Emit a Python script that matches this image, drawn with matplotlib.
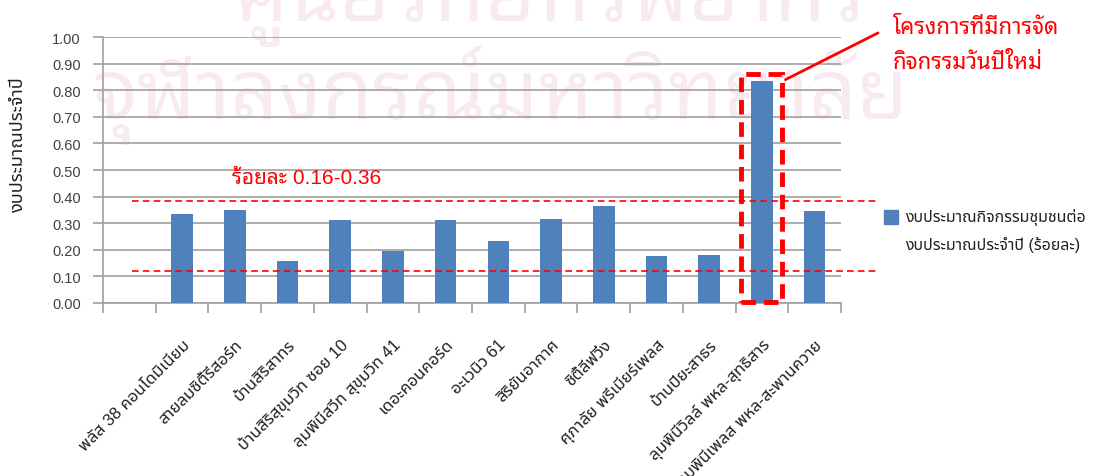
import numpy as np
import matplotlib
matplotlib.use('Agg')
import matplotlib.pyplot as plt
from matplotlib.patches import Rectangle

# ข้อมูล
projects = [
    'พลัส 38 คอนโดมิเนียม',
    'สายลมซิตี้รีสอร์ท',
    'บ้านสิริสาทร',
    'บ้านสิริสุขุมวิท ซอย 10',
    'ลุมพินีสวีท สุขุมวิท 41',
    'เดอะคอนคอร์ด',
    'อะเวนิว 61',
    'สิริยันอากาศ',
    'ซิตี้ลีฟวิ่ง',
    'ศุภาลัย พรีเมียร์เพลส',
    'บ้านปิยะสาธร',
    'ลุมพินีวิลล์ พหล-สุทธิสาร',
    'ลุมพินีเพลส พหล-สะพานควาย',
]
budget_ratio = [0.335, 0.35, 0.158, 0.312, 0.197, 0.312, 0.233,
                0.316, 0.365, 0.177, 0.18, 0.835, 0.346]
range_low, range_high = 0.12, 0.382
highlight = 'ลุมพินีวิลล์ พหล-สุทธิสาร'
series_lines = ['งบประมาณกิจกรรมชุมชนต่อ', 'งบประมาณประจำปี (ร้อยละ)']

plt.rcParams['font.family'] = ['Liberation Sans', 'Noto Sans Thai', 'DejaVu Sans']
looped = ['Liberation Sans', 'Noto Sans Thai Looped', 'Noto Sans Thai', 'DejaVu Sans']

fig = plt.figure(figsize=(10.99, 4.77), dpi=100)
ax = fig.add_axes([0.0937, 0.3627, 0.6715, 0.5576])
ax.set_facecolor('none')

# ลายน้ำ
wm = '#f9eaf2'
fig.text(0.50, 1.005, 'ศูนย์วิทยทรัพยากร', fontsize=60, color=wm, family=looped,
         ha='center', va='center', fontweight='bold', zorder=-5)
fig.text(0.455, 0.80, 'จุฬาลงกรณ์มหาวิทยาลัย', fontsize=60, color=wm, family=looped,
         ha='center', va='center', fontweight='bold', zorder=-5)

x = np.arange(1, len(projects) + 1)
ax.bar(x, budget_ratio, width=0.41, color='#4f81bd', zorder=3)

ax.set_xlim(-0.5, len(projects) + 0.5)
ax.set_ylim(0, 1.0)
yt = np.arange(0, 1.01, 0.1)
ax.set_yticks(yt)
ax.set_yticklabels([f'{v:.2f}' for v in yt], fontsize=10.5, color='#404040')
ax.yaxis.grid(True, color='#a0a0a0', linewidth=1.2, zorder=0)
ax.tick_params(axis='y', length=7, color='#a0a0a0', width=1.2, pad=9)

ax.set_xticks(x)
ax.set_xticklabels(projects, rotation=45, ha='right', rotation_mode='anchor',
                   fontsize=12, color='#202020')
ax.tick_params(axis='x', which='major', length=0, pad=24)
ax.set_xticks(np.arange(-0.5, len(projects) + 1), minor=True)
ax.tick_params(axis='x', which='minor', length=7, color='#a0a0a0', width=1.2)

for s in ['top', 'right']:
    ax.spines[s].set_visible(False)
for s in ['left', 'bottom']:
    ax.spines[s].set_color('#a0a0a0')
    ax.spines[s].set_linewidth(1.2)

ax.text(-0.115, 0.60, 'งบประมาณประจำปี', transform=ax.transAxes, rotation=90,
        fontsize=13, ha='center', va='center', color='#202020')

# เส้นช่วงร้อยละ
for yv in [range_low, range_high]:
    ax.plot([0.05, 14.2], [yv, yv], color='red', linestyle=(0, (4, 2.5)),
            linewidth=1.2, zorder=4, clip_on=False)
ax.text(3.37, 0.47, 'ร้อยละ 0.16-0.36', color='red', fontsize=15,
        family=looped, ha='center', va='center')

# กรอบเน้นโครงการ
hi = projects.index(highlight) + 1
ax.add_patch(Rectangle((hi - 0.39, 0.005), 0.78, 0.855, fill=False,
                       edgecolor='red', linewidth=3.5, linestyle=(0, (3, 1.6)),
                       zorder=5, clip_on=False))
ax.annotate('', xy=(hi + 0.4, 0.835), xytext=(14.25, 1.02),
            arrowprops=dict(arrowstyle='-', color='red', lw=2),
            annotation_clip=False)
fig.text(0.8125, 0.941, 'โครงการที่มีการจัด', color='red', family=looped,
         fontsize=16, fontweight='bold', ha='left', va='center')
fig.text(0.8125, 0.866, 'กิจกรรมวันปีใหม่', color='red', family=looped,
         fontsize=16, fontweight='bold', ha='left', va='center')

# คำอธิบายสัญลักษณ์
fig.patches.append(Rectangle((0.8044, 0.5283), 0.01274, 0.02935,
                             color='#4f81bd', transform=fig.transFigure))
fig.text(0.8235, 0.543, series_lines[0], fontsize=11.5, color='#202020',
         ha='left', va='center')
fig.text(0.8235, 0.4864, series_lines[1], fontsize=11.5, color='#202020',
         ha='left', va='center')

fig.savefig('out.png', dpi=100)
